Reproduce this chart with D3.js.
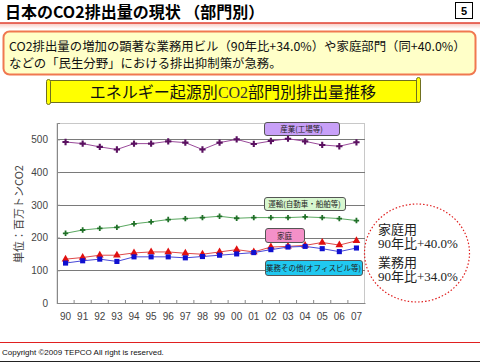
<!DOCTYPE html>
<html><head><meta charset="utf-8">
<script src="https://cdn.jsdelivr.net/npm/d3@7"></script>
<style>
html,body{margin:0;padding:0;background:#fff;}
svg{display:block;}
</style></head>
<body>
<script>
const years = ["90","91","92","93","94","95","96","97","98","99","00","01","02","03","04","05","06","07"];
const industry = [492,487,477,469,487,487,494,490,469,490,500,486,495,502,494,483,479,491];
const transport = [213,223,228,231,242,248,255,258,261,265,259,261,261,261,263,261,258,252];
const household = [134,139,146,146,153,156,156,152,149,156,163,156,171,173,176,185,177,190];
const commercial = [122,129,134,127,141,141,141,138,142,146,150,154,163,171,173,166,157,168];
const yTicks = [0,100,200,300,400,500];

const W=480,H=362;
const svg=d3.select("body").append("svg").attr("width",W).attr("height",H);
const JP='"Noto Sans CJK JP","Noto Sans",sans-serif';
const SERIF='"Liberation Serif","DejaVu Serif",serif';

// Title
svg.append("text").attr("x",5).attr("y",18).attr("font-family",JP).attr("font-weight","bold")
  .attr("font-size",16).attr("fill","#000").text("日本のCO2排出量の現状 （部門別）");
svg.append("rect").attr("x",455.5).attr("y",2.5).attr("width",17).attr("height",16)
  .attr("fill","#fff").attr("stroke","#000");
svg.append("text").attr("x",464).attr("y",15).attr("text-anchor","middle").attr("font-family","Arial,Liberation Sans,sans-serif")
  .attr("font-weight","bold").attr("font-size",11).text("5");
const grad=svg.append("defs").append("linearGradient").attr("id","pg").attr("x1",0).attr("x2",0).attr("y1",0).attr("y2",1);
grad.append("stop").attr("offset",0).attr("stop-color","#f8c8c0");
grad.append("stop").attr("offset",1).attr("stop-color","#ffffff");
svg.append("rect").attr("x",0).attr("y",23).attr("width",W).attr("height",6).attr("fill","url(#pg)");
svg.append("line").attr("x1",0).attr("x2",W).attr("y1",23).attr("y2",23).attr("stroke","#e04030").attr("stroke-width",1.5);

// Callout box
svg.append("rect").attr("x",3.5).attr("y",31.5).attr("width",472).attr("height",43).attr("rx",6)
  .attr("fill","#ffffc8").attr("stroke","#f07850").attr("stroke-width",2);
svg.append("text").attr("x",9).attr("y",51).attr("font-family",JP).attr("font-size",12.4).attr("fill","#111")
  .text("CO2排出量の増加の顕著な業務用ビル（90年比+34.0%）や家庭部門（同+40.0%）");
svg.append("text").attr("x",9).attr("y",67.5).attr("font-family",JP).attr("font-size",12.4).attr("fill","#111")
  .text("などの「民生分野」における排出抑制策が急務。");

// Banner scroll
const bn=svg.append("g");
bn.append("rect").attr("x",48).attr("y",80.5).attr("width",371).attr("height",22).attr("fill","#ffff00").attr("stroke","#707020");
bn.append("rect").attr("x",46.5).attr("y",79.5).attr("width",4).attr("height",25).attr("rx",2).attr("fill","#ffff00").attr("stroke","#707020");
bn.append("rect").attr("x",416.5).attr("y",77.5).attr("width",4).attr("height",25).attr("rx",2).attr("fill","#ffff00").attr("stroke","#707020");
const bt=bn.append("text").attr("x",233).attr("y",98).attr("text-anchor","middle").attr("font-family",JP).attr("font-size",16).attr("fill","#111");
bt.append("tspan").text("エネルギー起源別");
bt.append("tspan").attr("font-family",SERIF).attr("fill","#333").text("CO2");
bt.append("tspan").text("部門別排出量推移");

// Chart
const L=57,R=365,T=123,B=303;
const x=d3.scaleBand().domain(years).range([L,R]);
const y=d3.scaleLinear().domain([0,550]).range([B,T]);
svg.append("rect").attr("x",L).attr("y",T+0.5).attr("width",R-L-0.5).attr("height",B-T).attr("fill","none").attr("stroke","#c8c8c8");
svg.append("g").selectAll("line").data(yTicks.filter(d=>d>0)).join("line")
  .attr("x1",L).attr("x2",R).attr("y1",d=>Math.round(y(d))+0.5).attr("y2",d=>Math.round(y(d))+0.5)
  .attr("stroke","#7a7a7a").attr("stroke-width",1.2);

const yAxis=svg.append("g").attr("transform",`translate(${L},0)`)
  .call(d3.axisLeft(y).tickValues(yTicks).tickSize(-3).tickPadding(9));
yAxis.select(".domain").attr("stroke","#888");
yAxis.selectAll(".tick line").attr("stroke","#888");
yAxis.selectAll("text").attr("font-family","Arial,'Liberation Sans',sans-serif").attr("font-size",10).attr("fill","#444");

const xAxis=svg.append("g").attr("transform",`translate(0,${B})`)
  .call(d3.axisBottom(x).tickSize(0).tickPadding(10));
xAxis.select(".domain").attr("stroke","#888");
xAxis.selectAll("text").attr("font-family","Arial,'Liberation Sans',sans-serif").attr("font-size",10).attr("fill","#444");
svg.append("g").selectAll("line").data(years.slice(1)).join("line")
  .attr("x1",d=>x(d)).attr("x2",d=>x(d)).attr("y1",B).attr("y2",B-3).attr("stroke","#888");

svg.append("text").attr("transform","translate(23,214) rotate(-90)").attr("text-anchor","middle")
  .attr("font-family",JP).attr("font-size",11).attr("fill","#444").text("単位：百万トンCO2");

const cx=d=>x(d)+x.bandwidth()/2;
const line=d3.line().x((d,i)=>cx(years[i])).y(d=>y(d));
const series=[
  {v:industry,c:"#9a4a9a",m:"#5a1060",s:d3.symbolCross,sz:22},
  {v:transport,c:"#5aa860",m:"#207028",s:d3.symbolCross,sz:16},
  {v:household,c:"#e04848",m:"#e01010",s:d3.symbolTriangle,sz:26},
  {v:commercial,c:"#4848d8",m:"#1010d0",s:d3.symbolSquare,sz:26}
];
series.forEach(S=>{
  svg.append("path").attr("d",line(S.v)).attr("fill","none").attr("stroke",S.c).attr("stroke-width",1);
  svg.append("g").selectAll("path").data(S.v).join("path")
    .attr("transform",(d,i)=>`translate(${cx(years[i])},${y(d)})`)
    .attr("d",d3.symbol().type(S.s).size(S.sz)).attr("fill",S.m);
});

// Series labels
const labels=[
  {t:"産業(工場等)",x:264,y:122.5,w:75,h:13,f:"#c8a0f8"},
  {t:"運輸(自動車・船舶等)",x:264,y:197.5,w:81,h:13,f:"#d8f8d0"},
  {t:"家庭",x:265,y:228.5,w:39,h:14,f:"#f490c8"},
  {t:"業務その他(オフィスビル等)",x:265,y:260.5,w:97,h:15,f:"#20c8f0"}
];
labels.forEach(l=>{
  svg.append("rect").attr("x",l.x+0.5).attr("y",l.y).attr("width",l.w).attr("height",l.h).attr("rx",2.5)
    .attr("fill",l.f).attr("stroke","#555");
  svg.append("text").attr("x",l.x+l.w/2).attr("y",l.y+l.h/2+3).attr("text-anchor","middle")
    .attr("font-family",JP).attr("font-size",7.5).attr("fill","#222").text(l.t);
});

// Dotted circle callout
svg.append("ellipse").attr("cx",417).attr("cy",253).attr("rx",52.5).attr("ry",49).attr("fill","none")
  .attr("stroke","#e02020").attr("stroke-width",1.2).attr("stroke-dasharray","1.5,2");
const ct=[["家庭用",234],["90年比+40.0%",248],["業務用",267],["90年比+34.0%",281]];
ct.forEach(c=>svg.append("text").attr("x",378).attr("y",c[1]).attr("font-family",SERIF+',"Noto Sans CJK JP"')
  .attr("font-size",13).attr("fill","#222").text(c[0]));

// Footer
svg.append("line").attr("x1",0).attr("x2",W).attr("y1",342.5).attr("y2",342.5).attr("stroke","#e02020").attr("stroke-width",1.2);
svg.append("text").attr("x",2).attr("y",355).attr("font-family","Arial,'Liberation Sans',sans-serif").attr("font-size",8)
  .attr("fill","#111").text("Copyright ©2009 TEPCO All right is reserved.");
svg.append("line").attr("x1",0).attr("x2",W).attr("y1",361.5).attr("y2",361.5).attr("stroke","#222");
</script>
</body></html>
